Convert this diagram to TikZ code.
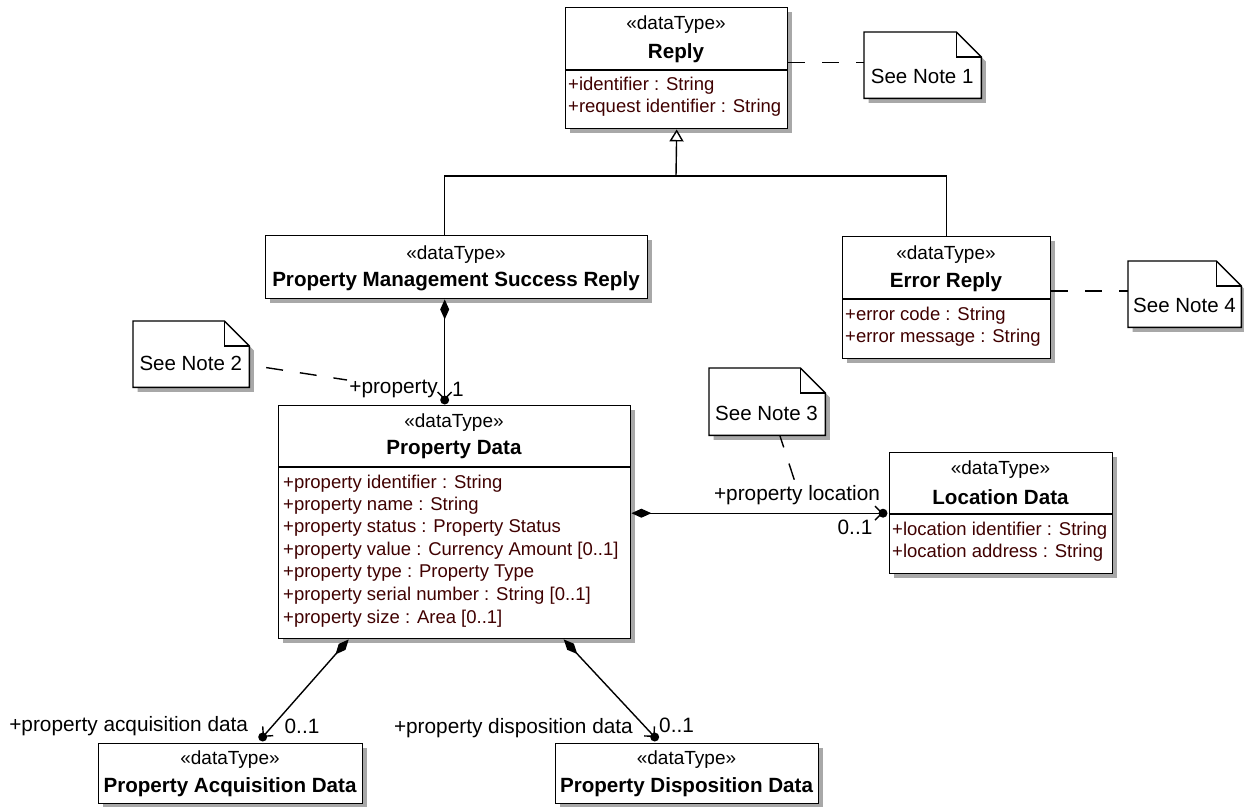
\documentclass[tikz,border=0pt]{standalone}
\usepackage{fontspec}
\setmainfont{Liberation Sans}
\usetikzlibrary{arrows.meta,shadows}
\definecolor{attrc}{RGB}{64,0,0}
\definecolor{shadowc}{RGB}{168,168,168}
\begin{document}
\begin{tikzpicture}[x=1pt,y=-1pt,
  box/.style={draw, line width=1.4pt, fill=white, anchor=north west, inner sep=0pt,
    drop shadow={shadow xshift=4.5pt, shadow yshift=-4.5pt, fill=shadowc, opacity=1}},
  stereo/.style={font=\fontsize{19}{22}\selectfont, inner sep=0pt},
  titletext/.style={font=\fontsize{20.6}{24}\selectfont\bfseries, inner sep=0pt},
  attr/.style={font=\fontsize{18.5}{22}\selectfont, text=attrc, anchor=west, inner sep=0pt},
  role/.style={font=\fontsize{20.8}{24}\selectfont, inner sep=0pt},
  notebody/.style={anchor=north west, inner sep=0pt},
  noteshape/.style={draw, line width=1.4pt, fill=white,
    drop shadow={shadow xshift=4.5pt, shadow yshift=-4.5pt, fill=shadowc, opacity=1}},
  notefold/.style={line width=1.4pt},
  notetext/.style={font=\fontsize{20.5}{24}\selectfont, anchor=west, inner sep=0pt},
  sep/.style={line width=1.4pt},
  notelink/.style={line width=1.4pt, dash pattern=on 17pt off 17pt},
  comp/.style={line width=1.4pt, {Diamond[length=20pt,width=9pt]}-{Straight Barb[length=7pt,width=14pt,line width=1.4pt]}},
  genline/.style={line width=1.4pt},
  gen/.style={line width=1.4pt, -{Triangle[open, length=12pt, width=14pt, line width=1.4pt, fill=white]}},
  owndot/.style={fill=black}
]
\useasboundingbox (0,0) rectangle (1244,806);

% ---------- Reply ----------
\node[box, minimum width=222pt, minimum height=121pt] (reply) at (565,7) {};
\node[stereo] (replyS) at (676,25) {«dataType»};
\node[titletext] (replyT) at (676,52.7) {Reply};
\draw[sep] (reply.west |- 0,70) -- (reply.east |- 0,70);
\node[attr] (replyA1) at (568,86) {+identifier : String};
\node[attr] (replyA2) at (568,107.3) {+request identifier : String};

% ---------- Property Management Success Reply ----------
\node[box, minimum width=382pt, minimum height=63pt] (pmsr) at (265,235) {};
\node[stereo] (pmsrS) at (456,255) {«dataType»};
\node[titletext] (pmsrT) at (456,281.7) {Property Management Success Reply};

% ---------- Error Reply ----------
\node[box, minimum width=208pt, minimum height=122pt] (err) at (842,236) {};
\node[stereo] (errS) at (946,255) {«dataType»};
\node[titletext] (errT) at (946,281.7) {Error Reply};
\draw[sep] (err.west |- 0,299) -- (err.east |- 0,299);
\node[attr] (errA1) at (845,316) {+error code : String};
\node[attr] (errA2) at (845,337.3) {+error message : String};

% ---------- Property Data ----------
\node[box, minimum width=352pt, minimum height=233pt] (pd) at (278,405) {};
\node[stereo] (pdS) at (454,423) {«dataType»};
\node[titletext] (pdT) at (454,450) {Property Data};
\draw[sep] (pd.west |- 0,467) -- (pd.east |- 0,467);
\node[attr] (pdA1) at (283,483.3) {+property identifier : String};
\node[attr] (pdA2) at (283,505.8) {+property name : String};
\node[attr] (pdA3) at (283,528.3) {+property status : Property Status};
\node[attr] (pdA4) at (283,550.8) {+property value : Currency Amount [0..1]};
\node[attr] (pdA5) at (283,573.3) {+property type : Property Type};
\node[attr] (pdA6) at (283,595.8) {+property serial number : String [0..1]};
\node[attr] (pdA7) at (283,618.3) {+property size : Area [0..1]};

% ---------- Location Data ----------
\node[box, minimum width=223pt, minimum height=121pt] (ld) at (889,452) {};
\node[stereo] (ldS) at (1000.5,470) {«dataType»};
\node[titletext] (ldT) at (1000.5,496.7) {Location Data};
\draw[sep] (ld.west |- 0,514) -- (ld.east |- 0,514);
\node[attr] (ldA1) at (892,530.7) {+location identifier : String};
\node[attr] (ldA2) at (892,552.7) {+location address : String};

% ---------- Property Acquisition Data ----------
\node[box, minimum width=264pt, minimum height=60pt] (pad) at (98,743) {};
\node[stereo] (padS) at (230,760) {«dataType»};
\node[titletext] (padT) at (230,787) {Property Acquisition Data};

% ---------- Property Disposition Data ----------
\node[box, minimum width=263pt, minimum height=60pt] (pdd) at (555,743) {};
\node[stereo] (pddS) at (686.5,760) {«dataType»};
\node[titletext] (pddT) at (686.5,787) {Property Disposition Data};

% ---------- Notes ----------
\node[notebody, minimum width=117pt, minimum height=66pt] (n1) at (864,32) {};
\filldraw[noteshape] (n1.north west) -- ([xshift=-25pt]n1.north east) -- ([yshift=-25pt]n1.north east) -- (n1.south east) -- (n1.south west) -- cycle;
\draw[notefold] ([xshift=-25pt]n1.north east) -- ++(0,25) -- ([yshift=-25pt]n1.north east);
\node[notetext] (n1T) at (870.7,76) {See Note 1};

\node[notebody, minimum width=116pt, minimum height=66pt] (n2) at (133,321) {};
\filldraw[noteshape] (n2.north west) -- ([xshift=-25pt]n2.north east) -- ([yshift=-25pt]n2.north east) -- (n2.south east) -- (n2.south west) -- cycle;
\draw[notefold] ([xshift=-25pt]n2.north east) -- ++(0,25) -- ([yshift=-25pt]n2.north east);
\node[notetext] (n2T) at (139.3,363) {See Note 2};

\node[notebody, minimum width=116pt, minimum height=67pt] (n3) at (709,368) {};
\filldraw[noteshape] (n3.north west) -- ([xshift=-25pt]n3.north east) -- ([yshift=-25pt]n3.north east) -- (n3.south east) -- (n3.south west) -- cycle;
\draw[notefold] ([xshift=-25pt]n3.north east) -- ++(0,25) -- ([yshift=-25pt]n3.north east);
\node[notetext] (n3T) at (715,413) {See Note 3};

\node[notebody, minimum width=113pt, minimum height=66pt] (n4) at (1128,261) {};
\filldraw[noteshape] (n4.north west) -- ([xshift=-25pt]n4.north east) -- ([yshift=-25pt]n4.north east) -- (n4.south east) -- (n4.south west) -- cycle;
\draw[notefold] ([xshift=-25pt]n4.north east) -- ++(0,25) -- ([yshift=-25pt]n4.north east);
\node[notetext] (n4T) at (1133,305) {See Note 4};

% ---------- Generalization ----------
\coordinate (g) at (676,176);
\draw[genline] ([xshift=-12pt]pmsr.north) |- (g) -| (err.north);
\draw[gen] (g) -- (reply.south);

% ---------- Role labels ----------
\node[role, anchor=east] (rProp) at (438,389) {+property};
\node[role, anchor=west] (rProp1) at (452,389) {1};
\node[role] (rLoc) at (797,495) {+property location};
\node[role] (rLoc1) at (855,527) {0..1};
\node[role, anchor=east] (rAcq) at (248.3,726) {+property acquisition data};
\node[role] (rAcq1) at (302,726) {0..1};
\node[role, anchor=east] (rDis) at (633,728) {+property disposition data};
\node[role, anchor=west] (rDis1) at (659,725) {0..1};

% ---------- Compositions ----------
\coordinate (e1) at ([xshift=-12pt,yshift=5pt]pmsr.south |- pd.north);
\draw[comp] ([xshift=-12pt]pmsr.south) -- (e1);
\fill[owndot] (e1) circle (4.5pt);

\coordinate (e2) at ([yshift=9pt,xshift=-6pt]pd.east -| ld.west);
\draw[comp] ([yshift=9pt]pd.east) -- (e2);
\fill[owndot] (e2) circle (4.5pt);

\coordinate (e3) at ([xshift=32pt,yshift=6pt]pad.north);
\draw[comp] ([xshift=-106pt]pd.south) -- (e3);
\fill[owndot] (e3) circle (4.5pt);

\coordinate (e4) at ([xshift=-32.5pt,yshift=6pt]pdd.north);
\draw[comp] ([xshift=109pt]pd.south) -- (e4);
\fill[owndot] (e4) circle (4.5pt);

% ---------- Note links ----------
\draw[notelink] (reply.east |- 0,62.3) -- (n1.west |- 0,62.3);
\draw[notelink] (err.east |- 0,291) -- (n4.west |- 0,291);
\coordinate (l2) at (347,380);
\draw[notelink, dash phase=17pt] (n2.east |- 0,365) -- (l2);
\coordinate (l3a) at (780,436);
\coordinate (l3b) at (795,482);
\draw[notelink, dash phase=5pt] (l3a) -- (l3b);
\end{tikzpicture}
\end{document}
